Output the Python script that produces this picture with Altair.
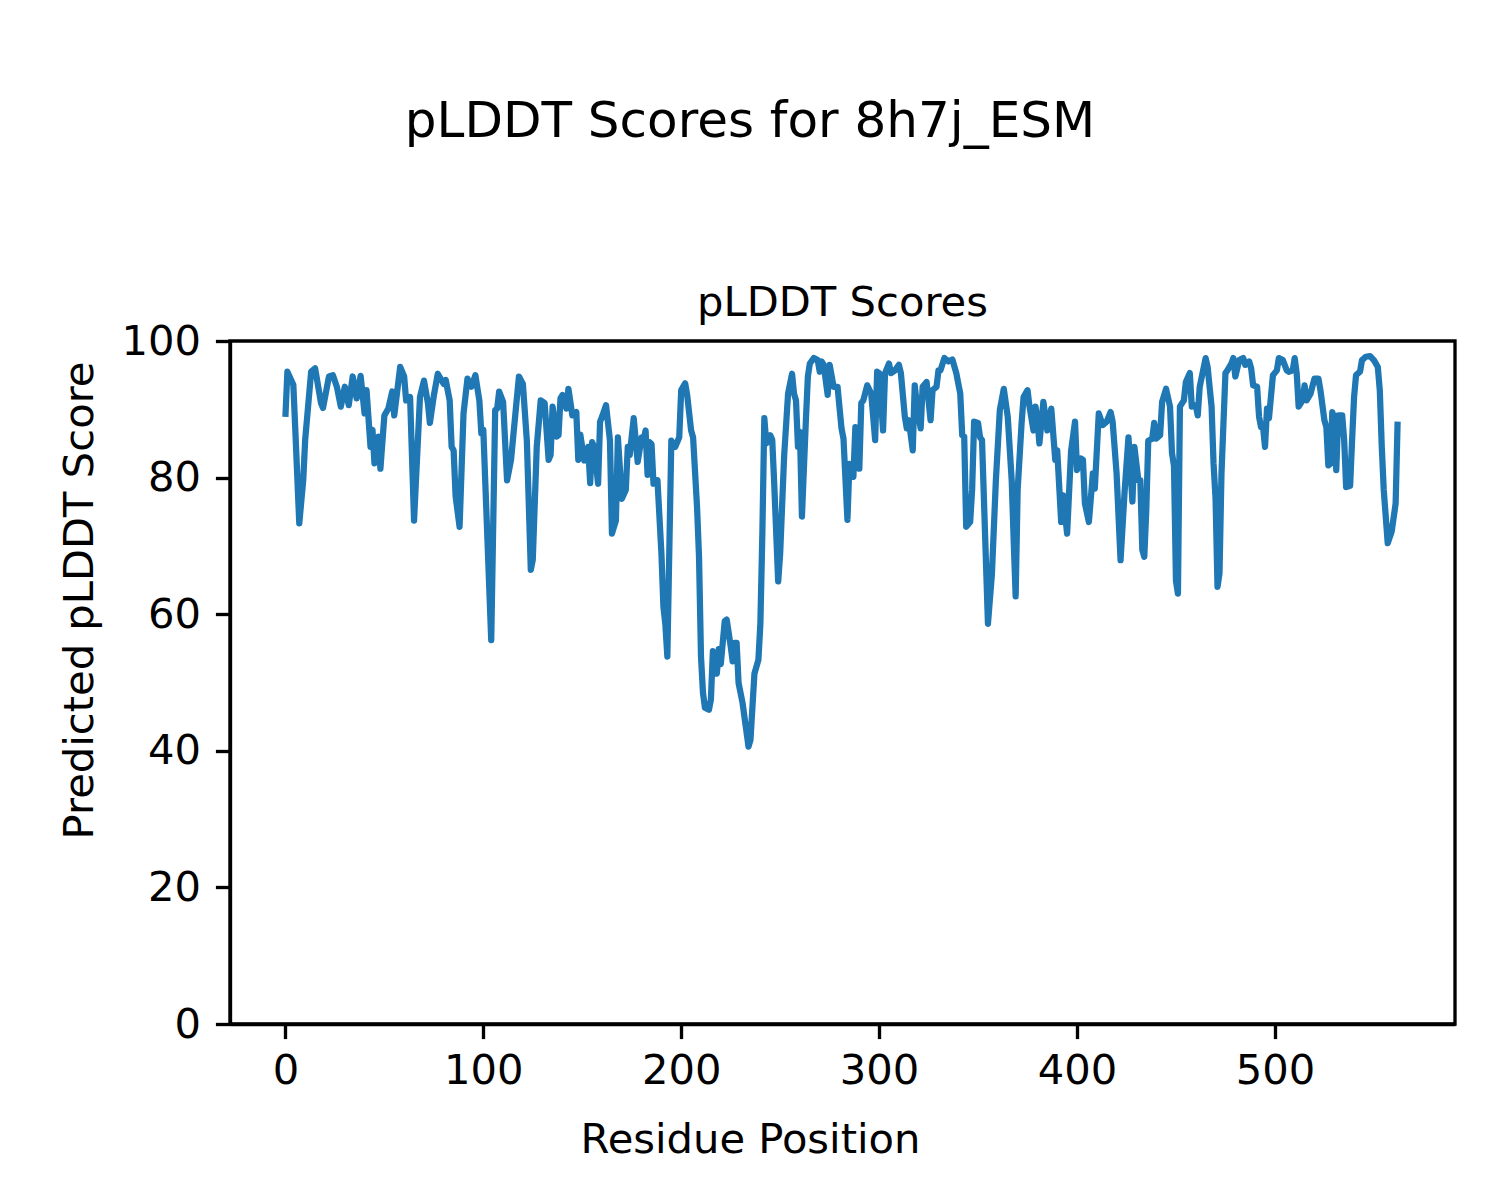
import altair as alt
import pandas as pd

residue = [0, 1, 4, 5, 7, 9, 10, 13, 15, 18, 19, 22, 24, 26, 28, 30, 32, 34, 36, 38, 40, 41, 43, 44, 45, 47, 48, 50, 52, 54, 55, 58, 60, 61, 63, 65, 68, 70, 72, 73, 75, 77, 80, 81, 83, 84, 85, 86, 88, 90, 92, 94, 96, 98, 99, 100, 104, 106, 107, 108, 110, 112, 114, 118, 120, 122, 124, 125, 127, 129, 131, 133, 134, 135, 137, 138, 139, 140, 142, 143, 145, 147, 148, 149, 151, 153, 154, 155, 156, 158, 159, 160, 162, 164, 165, 167, 168, 170, 172, 173, 174, 176, 177, 178, 180, 181, 182, 183, 184, 185, 186, 188, 190, 191, 192, 193, 195, 197, 199, 200, 202, 203, 205, 206, 208, 209, 210, 211, 212, 214, 215, 216, 218, 219, 220, 222, 223, 225, 226, 227, 228, 229, 231, 234, 235, 237, 239, 240, 241, 242, 243, 245, 246, 247, 249, 250, 252, 254, 256, 257, 258, 259, 260, 261, 263, 264, 265, 267, 269, 270, 271, 272, 274, 275, 277, 279, 281, 282, 284, 285, 287, 288, 290, 291, 292, 294, 296, 298, 299, 300, 302, 303, 305, 306, 308, 310, 311, 313, 314, 315, 317, 318, 319, 321, 322, 324, 326, 327, 329, 330, 331, 333, 335, 337, 339, 341, 342, 343, 344, 346, 347, 348, 350, 351, 352, 355, 357, 359, 361, 363, 365, 367, 368, 369, 370, 372, 373, 375, 376, 378, 379, 380, 381, 383, 385, 387, 389, 390, 392, 393, 395, 397, 399, 400, 402, 403, 404, 406, 408, 409, 411, 413, 415, 417, 418, 420, 422, 424, 426, 428, 429, 431, 432, 433, 434, 435, 436, 438, 439, 440, 442, 443, 445, 447, 448, 449, 450, 451, 452, 454, 455, 457, 458, 460, 461, 462, 465, 466, 468, 469, 470, 471, 472, 473, 475, 476, 478, 479, 480, 482, 484, 485, 487, 488, 489, 491, 492, 493, 494, 495, 496, 497, 499, 501, 502, 504, 506, 507, 509, 510, 511, 512, 514, 515, 516, 518, 520, 522, 523, 525, 526, 527, 528, 529, 530, 531, 532, 534, 535, 536, 538, 539, 540, 541, 543, 544, 546, 548, 550, 552, 553, 554, 555, 557, 559, 561, 562]

plddt = [88.9, 95.5, 93.6, 87.0, 73.3, 79.6, 85.6, 95.5, 96.0, 90.9, 90.2, 94.8, 95.0, 93.3, 90.4, 93.3, 90.6, 94.8, 91.6, 94.9, 89.4, 92.8, 84.5, 87.0, 82.1, 86.0, 81.3, 89.1, 90.1, 92.6, 89.1, 96.2, 94.8, 91.3, 91.8, 73.7, 91.8, 94.2, 90.9, 88.0, 92.0, 95.2, 93.7, 94.3, 91.3, 84.5, 84.0, 77.3, 72.8, 89.4, 94.5, 93.3, 95.0, 91.3, 86.5, 87.0, 56.2, 89.9, 90.1, 92.6, 91.1, 79.6, 82.6, 94.8, 93.7, 85.4, 66.5, 68.0, 84.5, 91.3, 90.9, 82.6, 83.3, 90.4, 86.0, 86.2, 91.6, 92.1, 90.1, 93.0, 89.1, 89.6, 82.6, 86.3, 82.5, 84.5, 79.2, 85.2, 84.5, 79.1, 88.2, 88.9, 90.6, 85.4, 71.8, 73.7, 85.9, 76.9, 78.2, 84.5, 83.3, 88.7, 85.5, 82.3, 85.9, 85.5, 86.9, 80.4, 85.2, 84.9, 79.1, 79.6, 68.9, 61.1, 58.5, 53.8, 85.4, 84.5, 85.9, 92.8, 93.8, 92.1, 86.9, 85.9, 75.7, 68.4, 53.8, 48.5, 46.3, 46.0, 47.5, 54.6, 51.3, 54.9, 52.7, 59.0, 59.2, 55.3, 53.1, 55.8, 55.8, 49.9, 47.0, 40.6, 41.6, 51.3, 53.3, 58.6, 71.8, 88.7, 85.0, 86.2, 85.5, 79.1, 64.8, 68.9, 83.1, 92.3, 95.2, 92.3, 91.3, 84.5, 86.7, 74.3, 88.4, 94.8, 96.7, 97.5, 97.2, 95.5, 97.0, 96.5, 92.1, 96.5, 93.3, 93.3, 87.2, 85.7, 73.8, 82.0, 80.1, 87.4, 81.3, 90.9, 91.3, 93.5, 92.3, 85.5, 95.5, 95.3, 86.9, 95.3, 96.7, 95.3, 95.7, 96.5, 95.3, 88.9, 87.2, 88.4, 84.0, 93.5, 90.9, 87.2, 93.3, 94.0, 88.4, 92.8, 93.3, 95.7, 95.7, 97.5, 97.0, 97.3, 95.3, 92.3, 86.2, 86.0, 72.8, 73.5, 78.2, 88.2, 88.0, 85.9, 85.5, 58.6, 65.9, 79.6, 89.9, 93.0, 88.9, 79.6, 70.8, 62.6, 78.2, 88.0, 91.8, 92.8, 90.4, 86.9, 90.4, 88.4, 85.0, 91.1, 86.9, 90.1, 82.6, 84.0, 73.5, 77.4, 71.8, 83.9, 88.2, 81.1, 82.8, 82.6, 76.2, 73.5, 80.6, 78.4, 89.4, 87.7, 88.2, 89.6, 88.2, 80.6, 67.9, 77.7, 85.9, 76.5, 84.5, 79.6, 79.6, 69.4, 68.4, 75.2, 85.4, 85.7, 88.0, 85.7, 86.2, 91.1, 93.0, 90.4, 83.6, 81.7, 64.9, 63.0, 90.4, 91.3, 94.0, 95.3, 90.4, 90.6, 89.1, 93.3, 97.5, 96.2, 90.4, 82.0, 77.0, 64.0, 66.0, 80.6, 95.3, 95.7, 96.7, 97.5, 94.8, 97.2, 97.5, 96.5, 97.0, 96.0, 93.5, 93.3, 88.9, 87.4, 87.4, 84.5, 90.1, 88.7, 95.0, 95.7, 97.5, 97.2, 95.7, 95.5, 95.7, 97.5, 95.3, 90.4, 91.3, 93.5, 91.3, 92.3, 94.5, 94.5, 92.8, 88.4, 87.4, 81.8, 82.0, 89.6, 88.5, 81.1, 89.1, 89.1, 85.5, 78.6, 78.8, 85.5, 91.8, 95.0, 95.5, 97.2, 97.7, 97.8, 97.2, 96.2, 92.8, 84.5, 78.2, 70.4, 72.1, 76.2, 88.2]

x_ticks = [0, 100, 200, 300, 400, 500]
y_ticks = [0, 20, 40, 60, 80, 100]

suptitle = "pLDDT Scores for 8h7j_ESM"
axes_title = "pLDDT Scores"
x_label = "Residue Position"
y_label = "Predicted pLDDT Score"

FONT = "DejaVu Sans"
W, H = 1225, 683

df = pd.DataFrame({"residue": residue, "plddt": plddt})

line = alt.Chart(df).mark_line(color="#1f77b4", strokeWidth=6.25, strokeJoin="round",
                               clip=True).encode(
    x=alt.X("residue:Q",
            scale=alt.Scale(domain=[-28, 591], nice=False, zero=False),
            axis=alt.Axis(values=x_ticks, title=x_label, titleX=520, titleY=128,
                          titleAlign="center", titleBaseline="alphabetic",
                          labelFlush=False, labelOverlap=False, labelPadding=12)),
    y=alt.Y("plddt:Q",
            scale=alt.Scale(domain=[0, 100], nice=False),
            axis=alt.Axis(values=y_ticks, title=y_label, titleX=-138, titleY=259,
                          titleAngle=270, titleAlign="center", titleBaseline="alphabetic",
                          labelFlush=False, labelOverlap=False, labelPadding=15)),
)

sup = alt.Chart(pd.DataFrame({"t": [suptitle]})).mark_text(
    font=FONT, fontSize=50, align="center", baseline="alphabetic", color="black"
).encode(text="t:N", x=alt.value(520), y=alt.value(-204))

ttl = alt.Chart(pd.DataFrame({"t": [axes_title]})).mark_text(
    font=FONT, fontSize=41.67, align="center", baseline="alphabetic", color="black"
).encode(text="t:N", x=alt.value(W / 2), y=alt.value(-25))

chart = alt.layer(line, sup, ttl).properties(
    width=W, height=H,
    autosize=alt.AutoSizeParams(type="none"),
    padding={"left": 222, "top": 333, "right": 37, "bottom": 160},
).configure_view(
    stroke="black", strokeWidth=3.33
).configure_axis(
    grid=False,
    labelFont=FONT, labelFontSize=41.67, labelColor="black",
    titleFont=FONT, titleFontSize=41.67, titleFontWeight="normal", titleColor="black",
    domainColor="black", domainWidth=3.33,
    tickColor="black", tickWidth=3.33, tickSize=14.6,
)

chart.save("out.html", embed_options={"renderer": "svg", "actions": False})
